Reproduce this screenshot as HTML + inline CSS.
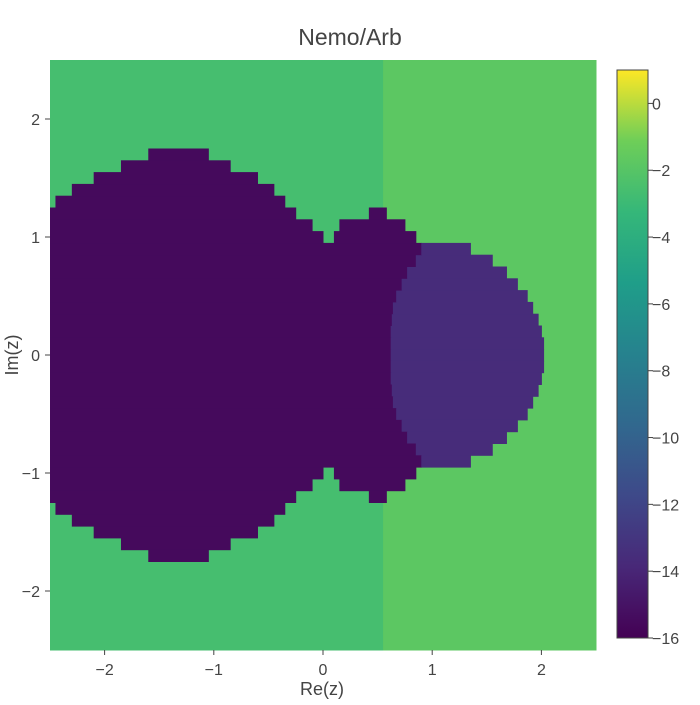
<!DOCTYPE html>
<html><head><meta charset="utf-8"><style>body{margin:0;background:#fff}svg{font-family:"Liberation Sans",sans-serif}</style></head>
<body>
<svg id="c" width="700" height="700">
<text x="350" y="45" text-anchor="middle" font-size="23" fill="#444">Nemo/Arb</text>
<g id="plot"></g>
<g id="axes"></g>
<defs><linearGradient id="vg" x1="0" y1="1" x2="0" y2="0">
<stop offset="0" stop-color="#440154"/><stop offset="0.125" stop-color="#482878"/><stop offset="0.25" stop-color="#3e4989"/><stop offset="0.375" stop-color="#31688e"/><stop offset="0.5" stop-color="#26828e"/><stop offset="0.625" stop-color="#1f9e89"/><stop offset="0.75" stop-color="#35b779"/><stop offset="0.875" stop-color="#6ece58"/><stop offset="1" stop-color="#fde725"/></linearGradient></defs>
<rect x="617" y="70" width="31" height="568" fill="url(#vg)" stroke="#444" stroke-width="1"/>
<g id="cb"></g>
<text x="322" y="695" text-anchor="middle" font-size="18" fill="#444">Re(z)</text>
<text x="18" y="355" text-anchor="middle" font-size="18" fill="#444" transform="rotate(-90 18 355)">Im(z)</text>
</svg>
<script>
const xTicks=[-2,-1,0,1,2];
const yTicks=[-2,-1,0,1,2];
const cbTicks=[0,-2,-4,-6,-8,-10,-12,-14,-16];
const bgLeft=-2.6, bgRight=-1.8, bgSplit=0.55;
const rowIm=[0,0.1,0.2,0.3,0.4,0.5,0.6,0.7,0.8,0.9,1.0,1.1,1.2,1.3,1.4,1.5,1.6,1.7];
// segments per row: [reStart, reEnd, value]
const rowSegs=[
[[-2.5,0.62,-15.5],[0.62,2.02,-13.6]],
[[-2.5,0.62,-15.5],[0.62,2.02,-13.6]],
[[-2.5,0.62,-15.5],[0.62,2.0,-13.6]],
[[-2.5,0.63,-15.5],[0.63,1.97,-13.6]],
[[-2.5,0.64,-15.5],[0.64,1.92,-13.6]],
[[-2.5,0.67,-15.5],[0.67,1.87,-13.6]],
[[-2.5,0.72,-15.5],[0.72,1.78,-13.6]],
[[-2.5,0.77,-15.5],[0.77,1.68,-13.6]],
[[-2.5,0.85,-15.5],[0.85,1.55,-13.6]],
[[-2.5,0.9,-15.5],[0.9,1.35,-13.6]],
[[-2.5,0.0,-15.5],[0.1,0.85,-15.5]],
[[-2.5,-0.1,-15.5],[0.15,0.75,-15.5]],
[[-2.5,-0.25,-15.5],[0.42,0.58,-15.5]],
[[-2.45,-0.35,-15.5]],
[[-2.3,-0.45,-15.5]],
[[-2.1,-0.6,-15.5]],
[[-1.85,-0.85,-15.5]],
[[-1.6,-1.05,-15.5]]];
const X0=50,X1=596,Y0=60,Y1=650;
const sx=v=>X0+(v+2.5)/5*(X1-X0);
const sy=v=>Y1-(v+2.5)/5*(Y1-Y0);
const cy=v=>638-(v+16)/17*568;
const vir=["#440154","#482878","#3e4989","#31688e","#26828e","#1f9e89","#35b779","#6ece58","#fde725"];
function col(v){let t=(v+16)/17*8;t=Math.max(0,Math.min(7.999,t));const i=Math.floor(t),f=t-i;
const a=vir[i],b=vir[i+1];const p=(h,k)=>parseInt(h.substr(k,2),16);
let r=[1,3,5].map(k=>Math.round(p(a,k)*(1-f)+p(b,k)*f));return`rgb(${r})`;}
const NS="http://www.w3.org/2000/svg";
const plot=document.getElementById('plot');
function rect(x0,x1,y0,y1,v,n){const r=document.createElementNS(NS,'rect');
r.setAttribute('x',Math.min(sx(x0),sx(x1)));r.setAttribute('width',Math.abs(sx(x1)-sx(x0))+0.5);
r.setAttribute('y',Math.min(sy(y0),sy(y1)));r.setAttribute('height',Math.abs(sy(y1)-sy(y0))+0.5);
r.setAttribute('fill',col(v));


plot.appendChild(r);}
rect(-2.5,bgSplit,-2.5,2.5,bgLeft,'background-left');
rect(bgSplit,2.5,-2.5,2.5,bgRight,'background-right');
rowIm.forEach((im,i)=>{[1,-1].forEach(s=>{if(im===0&&s<0)return;
const yc=im*s;rowSegs[i].forEach(sg=>rect(sg[0],sg[1],yc-0.05,yc+0.05,sg[2],'cell-row'));});});
const ax=document.getElementById('axes');
function txt(g,x,y,s,anc,n){const t=document.createElementNS(NS,'text');t.setAttribute('x',x);t.setAttribute('y',y);
t.setAttribute('text-anchor',anc);t.setAttribute('font-size','16');t.setAttribute('fill','#444');t.textContent=s;


g.appendChild(t);}
function ln(g,x1,y1,x2,y2){const l=document.createElementNS(NS,'line');l.setAttribute('x1',x1);l.setAttribute('y1',y1);l.setAttribute('x2',x2);l.setAttribute('y2',y2);l.setAttribute('stroke','#444');


g.appendChild(l);}
const fmt=v=>v<0?'\u2212'+(-v):''+v;
xTicks.forEach(v=>{ln(ax,sx(v),Y1,sx(v),Y1+5);txt(ax,sx(v),Y1+25,fmt(v),'middle','x-tick-label');});
yTicks.forEach(v=>{ln(ax,X0-5,sy(v),X0,sy(v));txt(ax,X0-10,sy(v)+6,fmt(v),'end','y-tick-label');});
const cb=document.getElementById('cb');
cbTicks.forEach(v=>{ln(cb,648,cy(v),653,cy(v));txt(cb,652,cy(v)+6,fmt(v),'start','colorbar-tick-label');});
</script>
</body></html>
